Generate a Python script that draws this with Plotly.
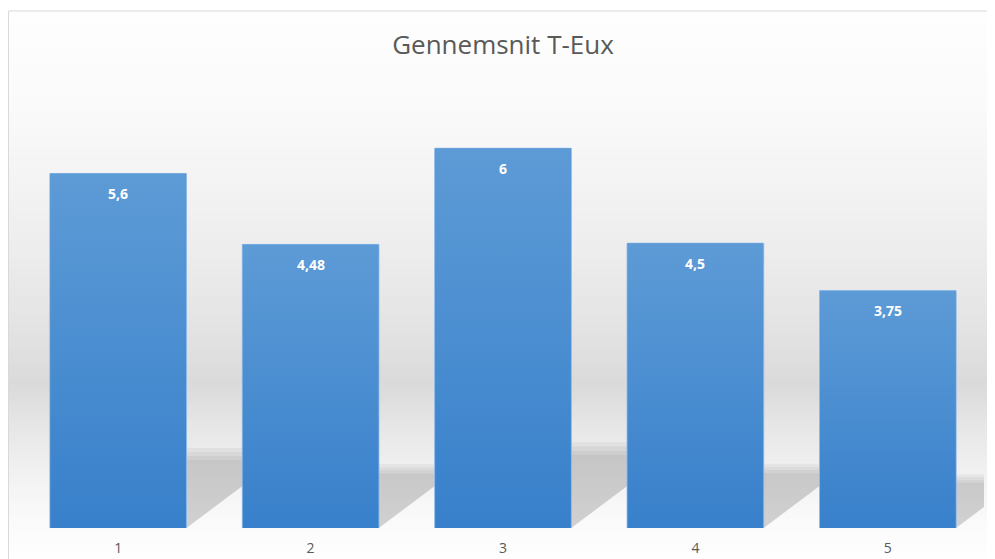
import plotly.graph_objects as go

categories = ["1", "2", "3", "4", "5"]
values = [5.6, 4.48, 6, 4.5, 3.75]
labels = ["5,6", "4,48", "6", "4,5", "3,75"]
title_text = "Gennemsnit T-Eux"

# the page body has an 8px margin, so the figure is drawn 8px in from the window edge
OFF = 8
W, H = 995 - OFF, 559 - OFF
ML, MR, MT, MB = 14, 11, 77, 31
YMAX = 7.0
plot_h = H - MT - MB
plot_w = W - ML - MR
px_per_unit = plot_h / YMAX
px_per_cat = plot_w / 5.0
BAR_W = 0.71


def py_to_paper(py):
    # py given in window (reference) pixel coordinates
    return (H - MB - (py - OFF)) / plot_h


def px_to_paper(px):
    return (px - OFF - ML) / plot_w


def lerp(a, b, t):
    return a + (b - a) * t


# background gradient stops (window pixel y, gray level)
stops = [(11, 254), (110, 250), (250, 237), (330, 227), (385, 218), (430, 231), (480, 243), (528, 251), (570, 255)]

shapes = []
n = 130
y_top, y_bot = 11, 570
for i in range(n):
    y0 = y_top + (y_bot - y_top) * i / n
    y1 = y_top + (y_bot - y_top) * (i + 1) / n
    ym = (y0 + y1) / 2
    g = 255
    for (a, ga), (b, gb) in zip(stops[:-1], stops[1:]):
        if a <= ym <= b:
            g = lerp(ga, gb, (ym - a) / (b - a))
            break
    g = int(round(g))
    shapes.append(dict(type="rect", xref="paper", yref="paper",
                       x0=px_to_paper(OFF), x1=px_to_paper(1010),
                       y0=py_to_paper(y1), y1=py_to_paper(y0) + 0.002,
                       fillcolor=f"rgb({g},{g},{g})", line=dict(width=0), layer="below"))

# chart frame
shapes.append(dict(type="rect", xref="paper", yref="paper",
                   x0=px_to_paper(OFF + 0.5), x1=px_to_paper(1010),
                   y0=py_to_paper(580), y1=py_to_paper(11),
                   fillcolor="rgba(0,0,0,0)", line=dict(color="#d9d9d9", width=1), layer="below"))

# perspective shadows behind the bars (soft, layered)
for i, v in enumerate(values):
    h = 0.226 * v
    h_px = h * px_per_unit
    s = (h_px / 0.75) / px_per_cat
    x0 = i - BAR_W / 2
    x1 = i + BAR_W / 2
    for k in range(4):
        f = 1.0 - 0.05 * k
        shapes.append(dict(type="path", xref="x", yref="y",
                           path=f"M {x0},0 L {x1},0 L {x1 + s*f},{h*f} L {x0 + s*f},{h*f} Z",
                           fillcolor="rgba(0,0,0,0.045)", line=dict(width=0), layer="below"))

fig = go.Figure()
fig.add_trace(go.Bar(
    x=list(range(5)), y=values, width=BAR_W,
    marker=dict(color="#4a8ed2", line=dict(color="rgba(140,185,235,0.9)", width=1)),
    hoverinfo="skip", showlegend=False,
))

# vertical colour gradient over each bar
for i, v in enumerate(values):
    x0 = i - BAR_W / 2 + 0.003
    x1 = i + BAR_W / 2 - 0.003
    fig.add_trace(go.Scatter(
        x=[x0, x1, x1, x0, x0], y=[0, 0, v, v, 0], mode="lines", fill="toself",
        line=dict(width=0), hoverinfo="skip", showlegend=False,
        fillgradient=dict(type="vertical", start=0, stop=v,
                          colorscale=[[0, "#3880cb"], [1, "#5d9bd6"]]),
    ))

annotations = []
for i, (v, lab) in enumerate(zip(values, labels)):
    annotations.append(dict(x=i, y=v, xref="x", yref="y", text=f"<b>{lab}</b>", showarrow=False,
                            yshift=-20, font=dict(family="Open Sans, sans-serif", size=14, color="white")))

fig.update_layout(
    width=W, height=H,
    margin=dict(l=ML, r=MR, t=MT, b=MB, autoexpand=False),
    paper_bgcolor="white", plot_bgcolor="rgba(0,0,0,0)",
    title=dict(text=title_text, x=(503 - OFF) / W, xanchor="center", y=1 - (45 - OFF) / H, yanchor="middle",
               font=dict(family="Open Sans, sans-serif", size=26, color="#595959")),
    xaxis=dict(range=[-0.5, 4.5], tickmode="array", tickvals=list(range(5)), ticktext=categories,
               showgrid=False, zeroline=False, showline=False, ticks="", ticklabelstandoff=10,
               automargin=False,
               tickfont=dict(family="Open Sans, sans-serif", size=14, color="#595959")),
    yaxis=dict(range=[0, YMAX], visible=False, showgrid=False, zeroline=False, automargin=False),
    shapes=shapes, annotations=annotations, bargap=0.29,
)

fig.write_html("out.html")
